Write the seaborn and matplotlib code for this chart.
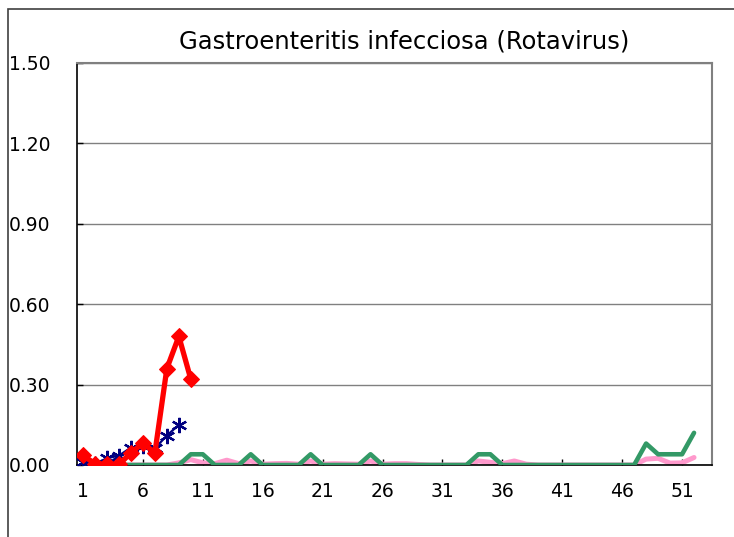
import pandas as pd
import matplotlib
matplotlib.use("Agg")
import matplotlib.pyplot as plt
from matplotlib.patches import Rectangle
import seaborn as sns

# semana epidemiologica
weeks = list(range(1, 53))

# temporada actual (rojo, rombos) - semanas 1-10
red_vals = [0.037, 0.004, 0.003, 0.002, 0.045, 0.082, 0.045, 0.36, 0.48, 0.32]
# temporada anterior (azul, asteriscos) - semanas 1-9
blue_vals = [0.01, 0.005, 0.025, 0.035, 0.065, 0.07, 0.062, 0.11, 0.15]
# verde - 52 semanas
green_vals = [0, 0, 0, 0, 0, 0, 0, 0, 0, 0.04,
              0.04, 0, 0, 0, 0.04, 0, 0, 0, 0, 0.04,
              0, 0, 0, 0, 0.04, 0, 0, 0, 0, 0,
              0, 0, 0, 0.04, 0.04, 0, 0, 0, 0, 0,
              0, 0, 0, 0, 0, 0, 0, 0.08, 0.04, 0.04,
              0.04, 0.12]
# rosa - 52 semanas
pink_vals = [0, 0, 0, 0, 0, 0, 0, 0, 0.008, 0.02,
             0.008, 0.005, 0.018, 0.005, 0.015, 0.003, 0.005, 0.006, 0.003, 0.015,
             0.003, 0.005, 0.004, 0.003, 0.015, 0.003, 0.005, 0.005, 0.002, 0,
             0, 0, 0, 0.015, 0.01, 0.005, 0.015, 0.003, 0, 0,
             0, 0, 0, 0, 0, 0, 0, 0.022, 0.025, 0.007,
             0.008, 0.028]

yticks = [0.0, 0.3, 0.6, 0.9, 1.2, 1.5]
xticks = list(range(1, 52, 5))

sns.set_style("white", {"xtick.bottom": True, "ytick.left": True,
                        "text.color": "black", "xtick.color": "black",
                        "ytick.color": "black"})
plt.rcParams['font.family'] = ['DejaVu Sans']

fig = plt.figure(figsize=(7.34, 5.37), dpi=100)
ax = fig.add_axes([77 / 734, 72 / 537, 635 / 734, 402 / 537])

sns.lineplot(x=weeks, y=pink_vals, ax=ax, color="#FF99CC", linewidth=3.6, zorder=2)
sns.lineplot(x=weeks, y=green_vals, ax=ax, color="#339966", linewidth=3.3, zorder=3)
sns.lineplot(x=weeks[:len(blue_vals)], y=blue_vals, ax=ax, color="#000080", linewidth=1.6,
             marker=(6, 2, 0), markersize=11, markeredgewidth=1.6,
             markeredgecolor="#000080", zorder=4)
sns.lineplot(x=weeks[:len(red_vals)], y=red_vals, ax=ax, color="#FF0000", linewidth=3.8,
             marker="D", markersize=8.5, markeredgecolor="#FF0000", zorder=5)

ax.set_xlim(0.5, 53.5)
ax.set_ylim(0, 1.5)
ax.set_yticks(yticks)
ax.set_yticklabels([f"{v:.2f}" for v in yticks])
ax.set_xticks(xticks)
ax.set_xticklabels([str(t) for t in xticks])
ax.tick_params(axis="y", direction="in", length=4, width=1, pad=19, labelsize=13.5,
               colors="black")
ax.tick_params(axis="x", direction="in", length=4, width=1, pad=12, labelsize=13.5,
               colors="black")
ax.yaxis.grid(True, color="#808080", linewidth=1)
ax.set_axisbelow(True)

for side in ["left", "bottom"]:
    ax.spines[side].set_color("black")
    ax.spines[side].set_linewidth(1.2)
for side in ["top", "right"]:
    ax.spines[side].set_color("#808080")
    ax.spines[side].set_linewidth(1.5)

fig.text(404 / 734, (537 - 42) / 537, "Gastroenteritis infecciosa (Rotavirus)",
         ha="center", va="center", fontsize=17.5, color="black")

# marco exterior del grafico
fig.patches.append(Rectangle((8 / 734, -0.1), 1.5, (537 - 9) / 537 + 0.1,
                             transform=fig.transFigure, fill=False,
                             edgecolor="#404040", linewidth=1.2))

fig.savefig("out.png", dpi=100)
